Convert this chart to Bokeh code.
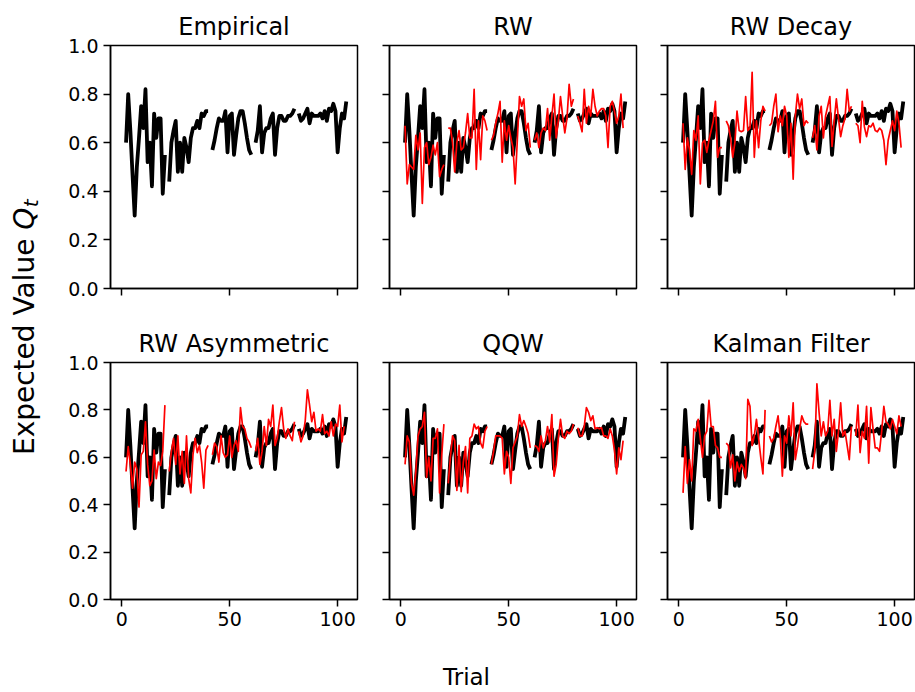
import math
from bokeh.plotting import figure
from bokeh.layouts import row, column
from bokeh.models import FixedTicker, PrintfTickFormatter, Label
from bokeh.embed import file_html
from bokeh.resources import INLINE

nan = float("nan")
FONT = "DejaVu Sans"

# ---------------- data ----------------
trials = list(range(1, 105))

empirical = (
    [nan]
    + [0.60, 0.80, 0.65, 0.47, 0.30, 0.50, 0.62, 0.75, 0.66, 0.82, 0.52, 0.60, 0.42, 0.72, 0.62, 0.70, 0.70, 0.39, 0.55]
    + [nan]
    + [0.44, 0.60, 0.65, 0.69, 0.48, 0.60, 0.48, 0.62, 0.58, 0.52, 0.62, 0.66, 0.66, 0.69, 0.66, 0.72, 0.71, 0.73, 0.73]
    + [nan]
    + [0.57, 0.61, 0.66, 0.70, 0.69, 0.69, 0.73, 0.56, 0.71, 0.72, 0.55, 0.63, 0.70, 0.73, 0.73, 0.68, 0.62, 0.57, 0.55]
    + [nan]
    + [0.60, 0.65, 0.75, 0.56, 0.64, 0.66, 0.66, 0.70, 0.72, 0.55, 0.66, 0.71, 0.71, 0.69, 0.69, 0.71, 0.71, 0.72, 0.74]
    + [nan]
    + [0.72, 0.69, 0.70, 0.72, 0.74, 0.68, 0.72, 0.71, 0.71, 0.71, 0.72, 0.70, 0.73, 0.69, 0.74, 0.73, 0.76, 0.73, 0.56, 0.66, 0.72, 0.70, 0.77]
)

rw = (
    [nan]
    + [0.67, 0.43, 0.51, 0.50, 0.49, 0.63, 0.57, 0.64, 0.35, 0.58, 0.60, 0.51, 0.54, 0.59, 0.55, 0.60, 0.46, 0.49, 0.51]
    + [nan]
    + [0.66, 0.66, 0.60, 0.48, 0.60, 0.65, 0.57, 0.58, 0.64, 0.72, 0.62, 0.62, 0.82, 0.49, 0.69, 0.53, 0.71, 0.69, 0.65]
    + [nan]
    + [0.61, 0.63, 0.68, 0.72, 0.77, 0.52, 0.69, 0.61, 0.67, 0.62, 0.58, 0.43, 0.61, 0.79, 0.75, 0.78, 0.65, 0.68, 0.58]
    + [nan]
    + [0.61, 0.64, 0.58, 0.64, 0.66, 0.65, 0.74, 0.61, 0.71, 0.80, 0.62, 0.69, 0.79, 0.71, 0.64, 0.70, 0.84, 0.75, 0.78]
    + [nan]
    + [0.71, 0.68, 0.645, 0.82, 0.68, 0.75, 0.71, 0.82, 0.75, 0.71, 0.73, 0.74, 0.74, 0.71, 0.58, 0.75, 0.77, 0.73, 0.68, 0.71, 0.80, 0.66, nan]
)

rw_decay = (
    [nan]
    + [0.68, 0.49, 0.62, 0.57, 0.47, 0.65, 0.61, 0.71, 0.43, 0.60, 0.61, 0.56, 0.61, 0.65, 0.69, 0.77, 0.54, 0.58, 0.58]
    + [nan]
    + [0.69, 0.67, 0.62, 0.54, 0.60, 0.73, 0.65, 0.645, 0.65, 0.79, 0.65, 0.66, 0.89, 0.54, 0.69, 0.58, 0.69, 0.75, 0.73]
    + [nan]
    + [0.67, 0.68, 0.75, 0.80, 0.645, 0.71, 0.67, 0.75, 0.71, 0.54, 0.68, 0.45, 0.71, 0.80, 0.74, 0.78, 0.67, 0.69, 0.68]
    + [nan]
    + [0.62, 0.67, 0.57, 0.71, 0.75, 0.62, 0.71, 0.75, 0.79, 0.585, 0.69, 0.78, 0.70, 0.625, 0.67, 0.70, 0.82, 0.73, 0.75]
    + [nan]
    + [0.68, 0.67, 0.60, 0.77, 0.665, 0.625, 0.67, 0.665, 0.68, 0.65, 0.645, 0.66, 0.65, 0.61, 0.51, 0.61, 0.65, 0.69, 0.65, 0.73, 0.68, 0.58, nan]
)

rw_asymmetric = (
    [nan]
    + [0.54, 0.645, 0.57, 0.47, 0.58, 0.55, 0.39, 0.61, 0.625, 0.75, 0.57, 0.48, 0.50, 0.63, 0.51, 0.58, 0.565, 0.625, 0.82]
    + [nan]
    + [0.54, 0.625, 0.68, 0.57, 0.69, 0.53, 0.625, 0.49, 0.69, 0.51, 0.45, 0.61, 0.68, 0.62, 0.65, 0.58, 0.47, 0.63, 0.65]
    + [nan]
    + [0.61, 0.66, 0.645, 0.58, 0.69, 0.62, 0.60, 0.61, 0.69, 0.60, 0.65, 0.67, 0.625, 0.81, 0.73, 0.72, 0.68, 0.665, 0.64]
    + [nan]
    + [0.625, 0.68, 0.57, 0.625, 0.73, 0.65, 0.76, 0.73, 0.82, 0.65, 0.68, 0.75, 0.81, 0.72, 0.68, 0.72, 0.69, 0.67, 0.75]
    + [nan]
    + [0.71, 0.665, 0.69, 0.755, 0.885, 0.82, 0.75, 0.79, 0.71, 0.72, 0.71, 0.78, 0.70, 0.71, 0.69, 0.75, 0.69, 0.74, 0.73, 0.82, 0.665, 0.73, nan]
)

qqw = (
    [nan]
    + [0.57, 0.69, 0.665, 0.49, 0.44, 0.54, 0.69, 0.72, 0.73, 0.79, 0.515, 0.60, 0.50, 0.68, 0.68, 0.72, 0.45, 0.61, 0.74]
    + [nan]
    + [0.49, 0.60, 0.69, 0.67, 0.46, 0.65, 0.455, 0.58, 0.645, 0.45, 0.68, 0.69, 0.74, 0.72, 0.73, 0.66, 0.64, 0.71, 0.73]
    + [nan]
    + [0.57, 0.625, 0.69, 0.69, 0.69, 0.68, 0.53, 0.625, 0.60, 0.49, 0.64, 0.665, 0.69, 0.78, 0.73, 0.755, 0.73, 0.70, 0.64]
    + [nan]
    + [0.65, 0.645, 0.625, 0.69, 0.64, 0.67, 0.73, 0.665, 0.78, 0.52, 0.57, 0.68, 0.76, 0.69, 0.68, 0.71, 0.70, 0.71, 0.74]
    + [nan]
    + [0.725, 0.69, 0.69, 0.73, 0.81, 0.79, 0.755, 0.775, 0.72, 0.725, 0.72, 0.725, 0.69, 0.69, 0.68, 0.72, 0.69, 0.63, 0.53, 0.64, 0.59, 0.67, nan]
)

kalman = (
    [nan]
    + [0.45, 0.645, 0.49, 0.59, 0.50, 0.72, 0.71, 0.76, 0.68, 0.60, 0.69, 0.71, 0.84, 0.73, 0.73, 0.65, 0.64, 0.60, 0.60]
    + [nan]
    + [0.66, 0.65, 0.555, 0.61, 0.50, 0.58, 0.54, 0.57, 0.555, 0.51, 0.845, 0.815, 0.65, 0.69, 0.76, 0.68, 0.60, 0.53, 0.80]
    + [nan]
    + [0.69, 0.665, 0.68, 0.73, 0.775, 0.69, 0.52, 0.69, 0.66, 0.775, 0.69, 0.83, 0.59, 0.645, 0.72, 0.775, 0.75, 0.74, 0.74]
    + [nan]
    + [0.55, 0.625, 0.91, 0.79, 0.69, 0.75, 0.69, 0.71, 0.84, 0.69, 0.76, 0.625, 0.71, 0.83, 0.69, 0.71, 0.65, 0.59, 0.73]
    + [nan]
    + [0.69, 0.82, 0.62, 0.71, 0.68, 0.815, 0.575, 0.81, 0.72, 0.64, 0.64, 0.625, 0.71, 0.815, 0.75, 0.74, 0.72, 0.76, 0.73, 0.70, 0.775, 0.73, nan]
)

panel_titles = ["Empirical", "RW", "RW Decay", "RW Asymmetric", "QQW", "Kalman Filter"]
panel_models = [None, rw, rw_decay, rw_asymmetric, qqw, kalman]

x_ticks = [0, 50, 100]
y_ticks = [0.0, 0.2, 0.4, 0.6, 0.8, 1.0]
x_label = "Trial"
y_label_main = "Expected Value "
y_label_sym = "Q"
y_label_sub = "t"

# ---------------- layout ----------------
col_widths = [323, 279, 263]
col_borders = [(60, 16), (16, 16), (15, 1)]
row_heights = [322, 318]
row_borders = [(45, 34), (34, 41)]


def make_panel(idx):
    r, c = divmod(idx, 3)
    bl, br = col_borders[c]
    bt, bb = row_borders[r]
    p = figure(
        width=col_widths[c], height=row_heights[r],
        x_range=(-5.2, 109.2), y_range=(0, 1),
        output_backend="svg", toolbar_location=None,
        min_border_left=bl, min_border_right=br,
        min_border_top=bt, min_border_bottom=bb,
        title=panel_titles[idx],
    )
    p.title.text_font = FONT
    p.title.text_font_size = "24px"
    p.title.text_font_style = "normal"
    p.title.align = "center"
    p.title.text_color = "black"
    p.title.standoff = 10

    p.xgrid.visible = False
    p.ygrid.visible = False
    p.outline_line_color = "black"
    p.outline_line_width = 1.5
    p.outline_line_alpha = 1.0
    p.background_fill_color = "white"
    p.border_fill_color = "white"

    for ax in (p.xaxis[0], p.yaxis[0]):
        ax.axis_line_color = "black"
        ax.axis_line_width = 1.5
        ax.major_tick_line_color = "black"
        ax.major_tick_line_width = 1.5
        ax.major_tick_out = 7
        ax.major_tick_in = 0
        ax.minor_tick_line_color = None
        ax.major_label_text_font = FONT
        ax.major_label_text_font_size = "19px"
        ax.major_label_text_color = "black"
        ax.major_label_standoff = 5

    p.xaxis[0].ticker = FixedTicker(ticks=x_ticks)
    p.yaxis[0].ticker = FixedTicker(ticks=y_ticks)
    p.yaxis[0].formatter = PrintfTickFormatter(format="%.1f")
    if r == 0:
        p.xaxis[0].major_label_overrides = {t: "" for t in x_ticks}
    if c != 0:
        p.yaxis[0].major_label_overrides = {t: "" for t in y_ticks}

    p.line(trials, empirical, line_color="black", line_width=3.8, line_join="round")
    model = panel_models[idx]
    if model is not None:
        p.line(trials, model, line_color="red", line_width=1.7, line_join="round")
    return p


panels = [make_panel(i) for i in range(6)]
grid = column(row(*panels[:3]), row(*panels[3:]))

# y label figure
ylab = figure(width=50, height=640, x_range=(0, 50), y_range=(0, 640),
              output_backend="svg", toolbar_location=None, min_border=0,
              x_axis_type=None, y_axis_type=None)
ylab.outline_line_color = None
ylab.xgrid.visible = False
ylab.ygrid.visible = False
fs = 28
main_len = 162.5 * fs / 20
q_len = 15.7 * fs / 20
total = main_len + q_len + 8
start = 312 - total / 2
anchor = start + main_len
base_x = 24
ylab.add_layout(Label(x=base_x, y=anchor, text=y_label_main, angle=math.pi / 2,
                      text_align="right", text_baseline="alphabetic",
                      text_font=FONT, text_font_size=f"{fs}px", text_color="black"))
ylab.add_layout(Label(x=base_x, y=anchor, text=y_label_sym, angle=math.pi / 2,
                      text_align="left", text_baseline="alphabetic",
                      text_font=FONT, text_font_size=f"{fs}px", text_font_style="italic",
                      text_color="black"))
ylab.add_layout(Label(x=base_x + 6, y=anchor + q_len + 0.5, text=y_label_sub, angle=math.pi / 2,
                      text_align="left", text_baseline="alphabetic",
                      text_font=FONT, text_font_size="20px", text_font_style="italic",
                      text_color="black"))

# x label figure: "Trial" drawn as an axis label of an otherwise empty axis
xlab = figure(width=915, height=52, x_range=(0, 1), y_range=(0, 1),
              output_backend="svg", toolbar_location=None,
              min_border_left=17, min_border_right=0, min_border_top=0, min_border_bottom=0,
              y_axis_type=None)
xlab.outline_line_color = None
xlab.xgrid.visible = False
xlab.ygrid.visible = False
xax = xlab.xaxis[0]
xax.ticker = FixedTicker(ticks=[])
xax.axis_line_color = None
xax.major_tick_line_color = None
xax.minor_tick_line_color = None
xax.major_label_text_font_size = "1px"
xax.major_label_standoff = 0
xax.axis_label = x_label
xax.axis_label_text_font = FONT
xax.axis_label_text_font_size = "23px"
xax.axis_label_text_font_style = "normal"
xax.axis_label_text_color = "black"
xax.axis_label_standoff = 0

layout = column(row(ylab, grid), xlab)

open("out.html", "w").write(file_html(layout, INLINE))
